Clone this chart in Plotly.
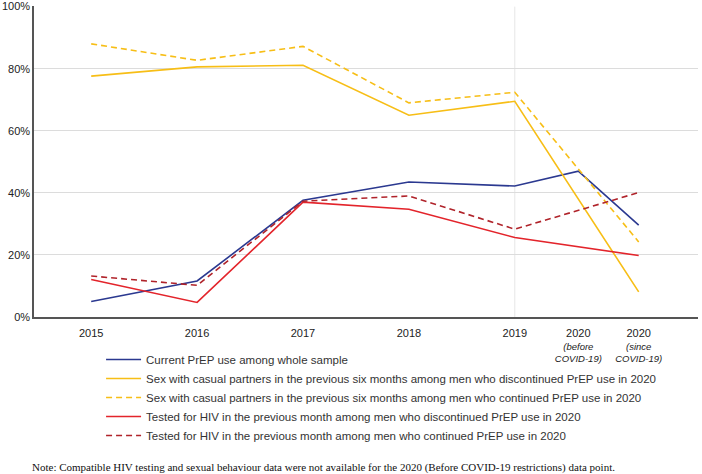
import plotly.graph_objects as go

# x positions of the survey points (2020 split into before / since COVID-19)
x_points = [2015, 2016, 2017, 2018, 2019, 2019.6, 2020.17]
year_labels = ["2015", "2016", "2017", "2018", "2019", "2020", "2020"]
sub_labels = ["", "", "", "", "", "(before<br>COVID-19)", "(since<br>COVID-19)"]
y_ticks = [0, 20, 40, 60, 80, 100]
y_tick_labels = ["0%", "20%", "40%", "60%", "80%", "100%"]

current_prep = [5.0, 11.6, 37.6, 43.5, 42.2, 47.0, 29.6]
sex_discontinued = [77.6, 80.6, 81.1, 65.0, 69.5, None, 8.1]
sex_continued = [88.0, 82.7, 87.2, 69.0, 72.4, None, 24.2]
test_discontinued = [12.1, 4.7, 37.0, 34.7, 25.6, None, 19.8]
test_continued = [13.2, 10.2, 37.3, 39.0, 28.3, None, 40.1]

names = [
    "Current PrEP use among whole sample",
    "Sex with casual partners in the previous six months among men who discontinued PrEP use in 2020",
    "Sex with casual partners in the previous six months among men who continued PrEP use in 2020",
    "Tested for HIV in the previous month among men who discontinued PrEP use in 2020",
    "Tested for HIV in the previous month among men who continued PrEP use in 2020",
]
series = [current_prep, sex_discontinued, sex_continued, test_discontinued, test_continued]
colors = ["#2B3990", "#F7BE16", "#F7BE16", "#E3242B", "#B0232A"]
dashes = ["solid", "solid", "6px,4px", "solid", "6px,4px"]

tick_text = []
for yl, sl in zip(year_labels, sub_labels):
    t = "<span style='font-size:11px'>" + yl + "</span>"
    if sl:
        t += "<br><i>" + sl + "</i>"
    tick_text.append(t)

fig = go.Figure()
for n, s, c, d in zip(names, series, colors, dashes):
    fig.add_trace(go.Scatter(
        x=x_points, y=s, name=n, mode="lines", connectgaps=True,
        line=dict(color=c, width=1.6, dash=d),
    ))

# vertical gridline at 2019
fig.add_shape(type="line", xref="x", yref="y", x0=x_points[4], x1=x_points[4],
              y0=0, y1=100, line=dict(color="#e6e6e6", width=1), layer="below")

fig.add_annotation(
    text="Note: Compatible HIV testing and sexual behaviour data were not available for the 2020 (Before COVID-19 restrictions) data point.",
    xref="paper", yref="paper", x=-0.006, y=-0.483, xanchor="left", yanchor="middle",
    showarrow=False, font=dict(family="Liberation Serif", size=11, color="#111"),
)

fig.update_layout(
    width=702, height=474,
    margin=dict(l=34, r=4, t=6, b=157, autoexpand=False),
    paper_bgcolor="white", plot_bgcolor="white",
    font=dict(family="Liberation Sans, Arial", size=11, color="#222"),
    showlegend=True,
    legend=dict(
        x=0.101, y=-0.09, xanchor="left", yanchor="top",
        font=dict(size=11.5, color="#333"), tracegroupgap=0, itemwidth=35,
        bgcolor="rgba(0,0,0,0)",
    ),
    xaxis=dict(
        range=[2014.46, 2020.73], tickmode="array", tickvals=x_points, ticktext=tick_text,
        showgrid=False, zeroline=False, showline=True, linecolor="#555", linewidth=1.5,
        ticks="", tickfont=dict(size=9.5, color="#222"), automargin=False,
        ticklabelstandoff=7,
    ),
    yaxis=dict(
        range=[0, 100.2], tickmode="array", tickvals=y_ticks, ticktext=y_tick_labels,
        showgrid=True, gridcolor="#dcdcdc", gridwidth=1, zeroline=False,
        showline=True, linecolor="#555", linewidth=1.5, ticks="",
        tickfont=dict(size=11, color="#222"), automargin=False,
    ),
)

fig.write_html(
    "out.html",
    config={"displayModeBar": False},
    post_script="document.body.style.margin='0';document.body.style.padding='0';",
)
